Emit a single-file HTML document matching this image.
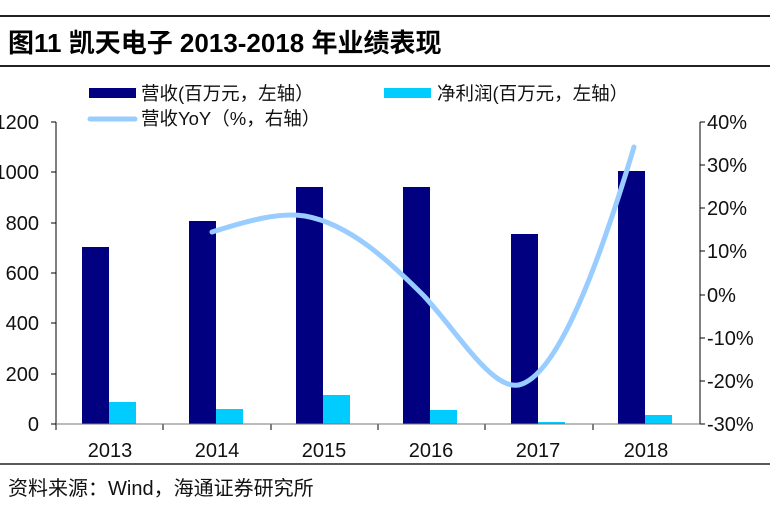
<!DOCTYPE html>
<html><head><meta charset="utf-8"><style>
body{margin:0;background:#fff;width:770px;height:514px;overflow:hidden}
svg{display:block;font-family:"Liberation Sans","Noto Sans CJK SC",sans-serif}
</style></head><body>
<svg width="770" height="514" viewBox="0 0 770 514" xmlns="http://www.w3.org/2000/svg">
<line x1="0" y1="16" x2="770" y2="16" stroke="#222" stroke-width="2"/>
<text x="8" y="52" font-size="26" font-weight="bold" fill="#000">图11 凯天电子 2013-2018 年业绩表现</text>
<line x1="0" y1="66" x2="770" y2="66" stroke="#222" stroke-width="2"/>
<!-- legend -->
<rect x="89" y="88" width="47" height="10" fill="#000080"/>
<text x="141" y="100" font-size="18.5" fill="#111">营收(百万元，左轴）</text>
<rect x="384" y="88" width="47" height="10" fill="#00ccff"/>
<text x="437" y="100" font-size="18.5" fill="#111">净利润(百万元，左轴）</text>
<line x1="90" y1="119" x2="135" y2="119" stroke="#99ccff" stroke-width="5" stroke-linecap="round"/>
<text x="141" y="125" font-size="18.5" fill="#111">营收YoY（%，右轴）</text>
<!-- axes -->
<line x1="56" y1="122" x2="56" y2="424" stroke="#000" stroke-width="1"/>
<line x1="700" y1="122" x2="700" y2="424" stroke="#000" stroke-width="1"/>
<g stroke="#000" stroke-width="1">
<line x1="51" y1="122" x2="56" y2="122"/><line x1="51" y1="172" x2="56" y2="172"/>
<line x1="51" y1="223" x2="56" y2="223"/><line x1="51" y1="273" x2="56" y2="273"/>
<line x1="51" y1="323" x2="56" y2="323"/><line x1="51" y1="374" x2="56" y2="374"/>
<line x1="51" y1="424" x2="56" y2="424"/>
<line x1="700" y1="122" x2="705" y2="122"/><line x1="700" y1="165" x2="705" y2="165"/>
<line x1="700" y1="208" x2="705" y2="208"/><line x1="700" y1="251" x2="705" y2="251"/>
<line x1="700" y1="295" x2="705" y2="295"/><line x1="700" y1="338" x2="705" y2="338"/>
<line x1="700" y1="381" x2="705" y2="381"/><line x1="700" y1="424" x2="705" y2="424"/>
<line x1="163" y1="424" x2="163" y2="430"/><line x1="271" y1="424" x2="271" y2="430"/>
<line x1="378" y1="424" x2="378" y2="430"/><line x1="485" y1="424" x2="485" y2="430"/>
<line x1="593" y1="424" x2="593" y2="430"/><line x1="56" y1="424" x2="56" y2="430"/>
</g>
<g font-size="20" fill="#111" text-anchor="end">
<text x="39" y="129">1200</text><text x="39" y="179">1000</text><text x="39" y="230">800</text>
<text x="39" y="280">600</text><text x="39" y="330">400</text><text x="39" y="381">200</text>
<text x="39" y="431">0</text>
</g>
<g font-size="20" fill="#111">
<text x="707" y="129">40%</text><text x="707" y="172">30%</text><text x="707" y="215">20%</text>
<text x="707" y="258">10%</text><text x="707" y="302">0%</text><text x="707" y="345">-10%</text>
<text x="707" y="388">-20%</text><text x="707" y="431">-30%</text>
</g>
<!-- bars -->
<g fill="#000080">
<rect x="82" y="247" width="27" height="177"/>
<rect x="189" y="221" width="27" height="203"/>
<rect x="296" y="187" width="27" height="237"/>
<rect x="403" y="187" width="27" height="237"/>
<rect x="511" y="234" width="27" height="190"/>
<rect x="618" y="171" width="27" height="253"/>
</g>
<g fill="#00ccff">
<rect x="109" y="402" width="27" height="22"/>
<rect x="216" y="409" width="27" height="15"/>
<rect x="323" y="395" width="27" height="29"/>
<rect x="430" y="410" width="27" height="14"/>
<rect x="538" y="422" width="27" height="2"/>
<rect x="645" y="415" width="27" height="9"/>
</g>
<line x1="56" y1="424" x2="700" y2="424" stroke="#777" stroke-width="1"/>
<path d="M212,232 C250,220 280,212 305,216 C350,224 390,262 424,296 C460,335 495,395 522,384 C560,370 600,260 634,147" fill="none" stroke="#99ccff" stroke-width="5" stroke-linecap="round"/>
<g font-size="20" fill="#111" text-anchor="middle">
<text x="110" y="457">2013</text><text x="217" y="457">2014</text><text x="324" y="457">2015</text>
<text x="431" y="457">2016</text><text x="538" y="457">2017</text><text x="646" y="457">2018</text>
</g>
<line x1="0" y1="464" x2="770" y2="464" stroke="#222" stroke-width="1.5"/>
<text x="8" y="495" font-size="20" fill="#111">资料来源：Wind，海通证券研究所</text>
</svg>
</body></html>
